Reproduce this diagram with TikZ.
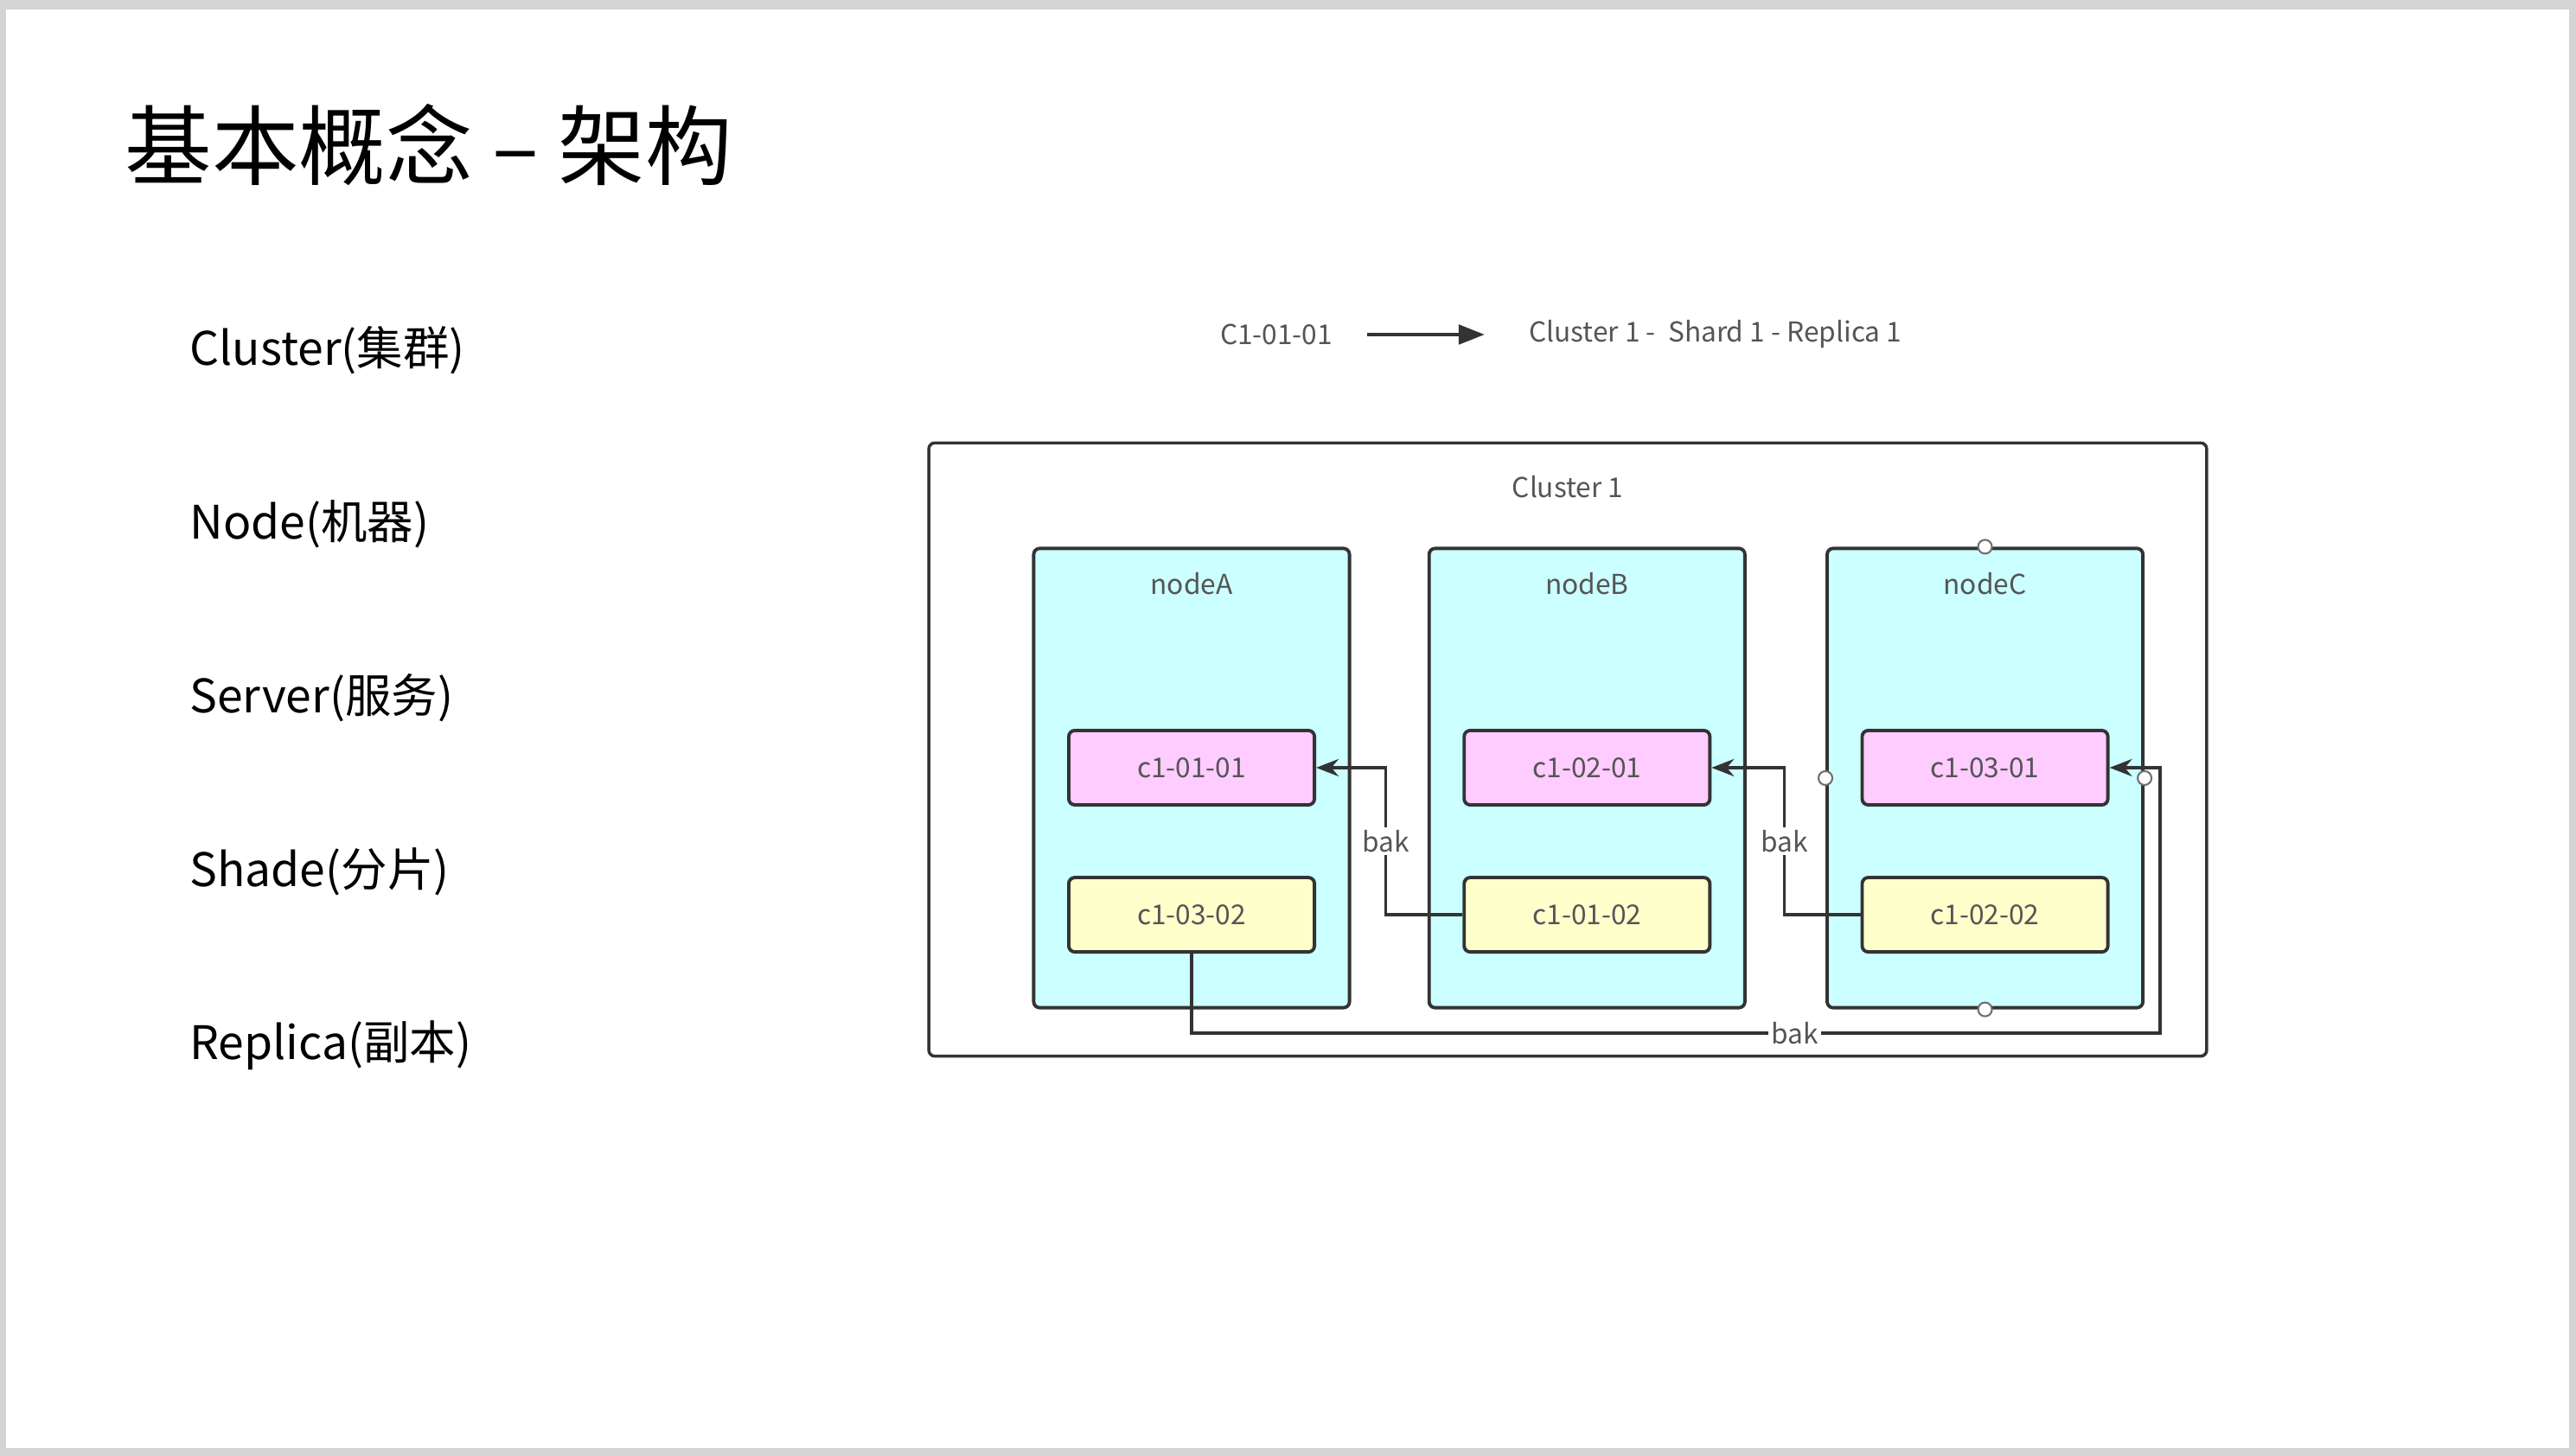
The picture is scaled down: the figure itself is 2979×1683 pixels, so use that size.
\documentclass[tikz,border=0pt]{standalone}
\usepackage{fontspec}
\setmainfont{Noto Sans CJK SC}
\usepackage{xcolor}
\usepackage{tikz}
\usetikzlibrary{positioning,arrows.meta}

\definecolor{linec}{HTML}{333333}
\definecolor{txtc}{HTML}{555555}
\definecolor{hostc}{HTML}{CCFFFF}
\definecolor{primc}{HTML}{FFCCFF}
\definecolor{replc}{HTML}{FFFFCC}
\definecolor{framec}{HTML}{D4D4D4}

\begin{document}
\begin{tikzpicture}[x=0.01cm,y=-0.01cm,on grid,
  lbl/.style={font=\fontsize{9}{11}\selectfont,text=txtc},
  concept/.style={anchor=west,font=\fontsize{15.2}{18}\selectfont},
  cluster/.style={draw=linec,line width=1pt,rounded corners=2pt,minimum width=14.77cm,minimum height=7.09cm},
  host/.style={draw=linec,fill=hostc,line width=1.1pt,rounded corners=2pt,minimum width=3.65cm,minimum height=5.31cm},
  shard/.style={lbl,draw=linec,line width=1.1pt,rounded corners=2pt,minimum width=2.84cm,minimum height=0.86cm},
  bakline/.style={draw=linec,line width=1pt,-{Stealth[length=0.26cm,width=0.2cm]}},
  port/.style={circle,draw=linec!70,fill=white,line width=0.6pt,inner sep=0pt,minimum size=0.16cm}]
  \useasboundingbox (0,0) rectangle (2979,1683);
  \fill[framec] (0,0) rectangle (2979,1683);
  \fill[white] (7,11) rectangle (2971,1675);

  % title and concepts
  \node[anchor=west,font=\fontsize{28.6}{33}\selectfont] (title) at (132,168) {基本概念 – 架构};
  \foreach \t [count=\i] in {Cluster(集群),Node(机器),Server(服务),Shade(分片),Replica(副本)}
    \node[concept] (k\i) at (207,{405+201*(\i-1)}) {\t};

  % naming
  \node[lbl] (code) at (1476,387) {C1-01-01};
  \node[lbl,anchor=west] (meaning) at (1756,387) {Cluster 1\ -\ \ Shard 1 - Replica 1};
  \draw[draw=linec,line width=1.4pt,-{Triangle[length=0.3cm,width=0.22cm]},shorten <=0.28cm,shorten >=0.39cm] (code) -- (meaning);

  % cluster
  \node[cluster] (clu) at (1813,867) {};
  \node[lbl] (clulbl) at ([yshift=-0.53cm]clu.north) {Cluster 1};

  \node[host] (nodeA) at (1378,900) {};
  \node[host] (nodeB) [right=4.57cm of nodeA] {};
  \node[host] (nodeC) [right=4.6cm of nodeB] {};
  \node[lbl] (labA) at ([yshift=-0.43cm]nodeA.north) {nodeA};
  \node[lbl] (labB) at ([yshift=-0.43cm]nodeB.north) {nodeB};
  \node[lbl] (labC) at ([yshift=-0.43cm]nodeC.north) {nodeC};

  \node[shard,fill=primc] (a1) at ([yshift=0.12cm]nodeA.center) {c1-01-01};
  \node[shard,fill=replc] (a2) [below=1.7cm of a1] {c1-03-02};
  \node[shard,fill=primc] (b1) at ([yshift=0.12cm]nodeB.center) {c1-02-01};
  \node[shard,fill=replc] (b2) [below=1.7cm of b1] {c1-01-02};
  \node[shard,fill=primc] (c1) at ([yshift=0.12cm]nodeC.center) {c1-03-01};
  \node[shard,fill=replc] (c2) [below=1.7cm of c1] {c1-02-02};

  % backups
  \draw[bakline] (b2.west) -- ++(-89,0) |- node[lbl,fill=white,pos=0.25,inner sep=1pt] {bak} (a1.east);
  \draw[bakline] (c2.west) -- ++(-88,0) |- node[lbl,fill=white,pos=0.25,inner sep=1pt] {bak} (b1.east);
  \draw[bakline] (a2.south) -- ++(0,92) -- node[lbl,fill=white,pos=0.623,inner sep=1pt] {bak} ++(1120,0) |- (c1.east);

  \foreach \a in {north,south,east,west}
    \node[port] (port-\a) at (nodeC.\a) {};
\end{tikzpicture}
\end{document}
